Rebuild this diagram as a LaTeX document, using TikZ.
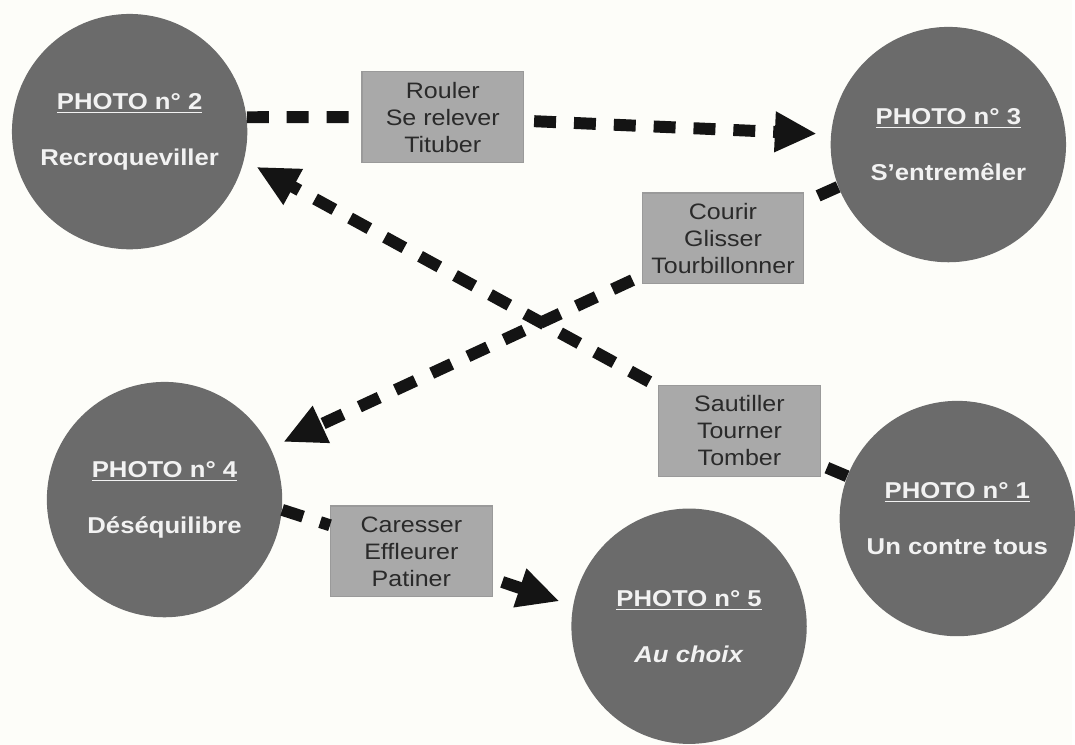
\documentclass[tikz,border=0pt]{standalone}
\usepackage{fontspec}
\setmainfont[FakeStretch=1.12]{Liberation Sans}
\usetikzlibrary{arrows.meta}
\usetikzlibrary{positioning}

\definecolor{paper}{HTML}{FDFDF9}
\definecolor{disc}{HTML}{6B6B6B}
\definecolor{boxgray}{HTML}{A9A9A9}
\definecolor{boxedge}{HTML}{9A9A9A}
\definecolor{boxtext}{HTML}{2A2A2A}
\definecolor{ink}{HTML}{141414}

\begin{document}
\begin{tikzpicture}[x=0.5pt, y=-0.5pt,
  photo/.style={circle, fill=disc, text=white!95!black, minimum size=118pt, inner sep=0pt,
    align=center, font=\fontsize{11.5}{14}\selectfont\bfseries},
  verbs/.style={rectangle, fill=boxgray, draw=boxedge, line width=0.6pt,
    minimum width=81pt, minimum height=45.5pt, inner sep=0pt, align=center,
    text=boxtext, font=\fontsize{11.2}{13.5}\selectfont},
  flow/.style={line width=6pt, dash pattern=on 11pt off 9pt, color=ink,
    shorten <=5pt, shorten >=7pt, -{Triangle[length=21pt,width=19pt]}}]

\fill[paper] (0,0) rectangle (1075,747);

% photos
\node[photo] (ph2) at (130,132) {\underline{PHOTO n° 2}\\[14pt]Recroqueviller};
\node[photo] (ph3) at (951,145) {\underline{PHOTO n° 3}\\[14pt]S'entremêler};
\node[photo] (ph4) at (165,501) {\underline{PHOTO n° 4}\\[14pt]Déséquilibre};
\node[photo] (ph1) at (960,520) {\underline{PHOTO n° 1}\\[14pt]Un contre tous};
\node[photo] (ph5) at (691,628) {\underline{PHOTO n° 5}\\[14pt]\textit{Au choix}};

% verbes
\node[verbs] (b1) at (444,117.5) {Rouler\\Se relever\\Tituber};
\node[verbs] (b2) at (725,239) {Courir\\Glisser\\Tourbillonner};
\node[verbs] (b3) at (741.5,432) {Sautiller\\Tourner\\Tomber};
\node[verbs] (b4) at (412.5,553) {Caresser\\Effleurer\\Patiner};

\draw[flow] (ph2.7) -- (b1) -- (ph3.175);
\draw[flow] (ph1.159) -- (b3) -- (ph2.-14);
\draw[flow] (ph3.201) -- (b2) -- (ph4.26);
\draw[flow] (ph4.-5) -- (b4) -- (ph5.170);

\end{tikzpicture}
\end{document}
